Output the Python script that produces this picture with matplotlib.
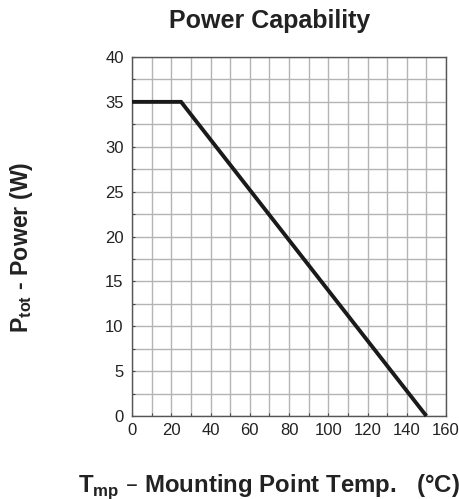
import numpy as np
import matplotlib.pyplot as plt
from matplotlib.ticker import MultipleLocator

# derating curve: flat up to the knee, then linear down to zero
temp_c = [0, 25, 150]
power_w = [35, 35, 0]

x_ticks = [0, 20, 40, 60, 80, 100, 120, 140, 160]
y_ticks = [0, 5, 10, 15, 20, 25, 30, 35, 40]

plt.rcParams['font.family'] = ['Liberation Sans', 'DejaVu Sans']

fig = plt.figure(figsize=(4.59, 4.99), dpi=100)
ax = fig.add_axes([0.2876, 0.1663, 0.6841, 0.7195])

ax.plot(temp_c, power_w, color='#1a1a1a', lw=2.8, solid_capstyle='butt',
        solid_joinstyle='miter', zorder=3, clip_on=False)

ax.set_xlim(0, 160)
ax.set_ylim(0, 40)
ax.set_xticks(x_ticks)
ax.set_yticks(y_ticks)
ax.xaxis.set_minor_locator(MultipleLocator(10))
ax.yaxis.set_minor_locator(MultipleLocator(2.5))
ax.grid(True, which='both', color='#b4b4b4', lw=1.0, zorder=1)
ax.set_axisbelow(True)

ax.tick_params(which='both', direction='in', length=2, width=0.8,
               color='#444444', labelsize=12, labelcolor='#222222')
ax.tick_params(axis='x', pad=5)
ax.tick_params(axis='y', pad=6)
for sp in ax.spines.values():
    sp.set_color('#555555')
    sp.set_linewidth(1.0)

fig.text(0.588, 0.958, 'Power Capability', ha='center', va='center',
         fontsize=18, fontweight='bold', color='#222222')
fig.text(0.046, 0.505, r'P$_\mathregular{tot}$ - Power (W)', rotation=90,
         ha='center', va='center', fontsize=16.7, fontweight='bold',
         color='#222222')
fig.text(0.170, 0.014, r'T$_\mathregular{mp}$ – Mounting Point Temp.   (°C)',
         ha='left', va='baseline', fontsize=17.3, fontweight='bold',
         color='#222222')

fig.savefig('out.png', dpi=100)
